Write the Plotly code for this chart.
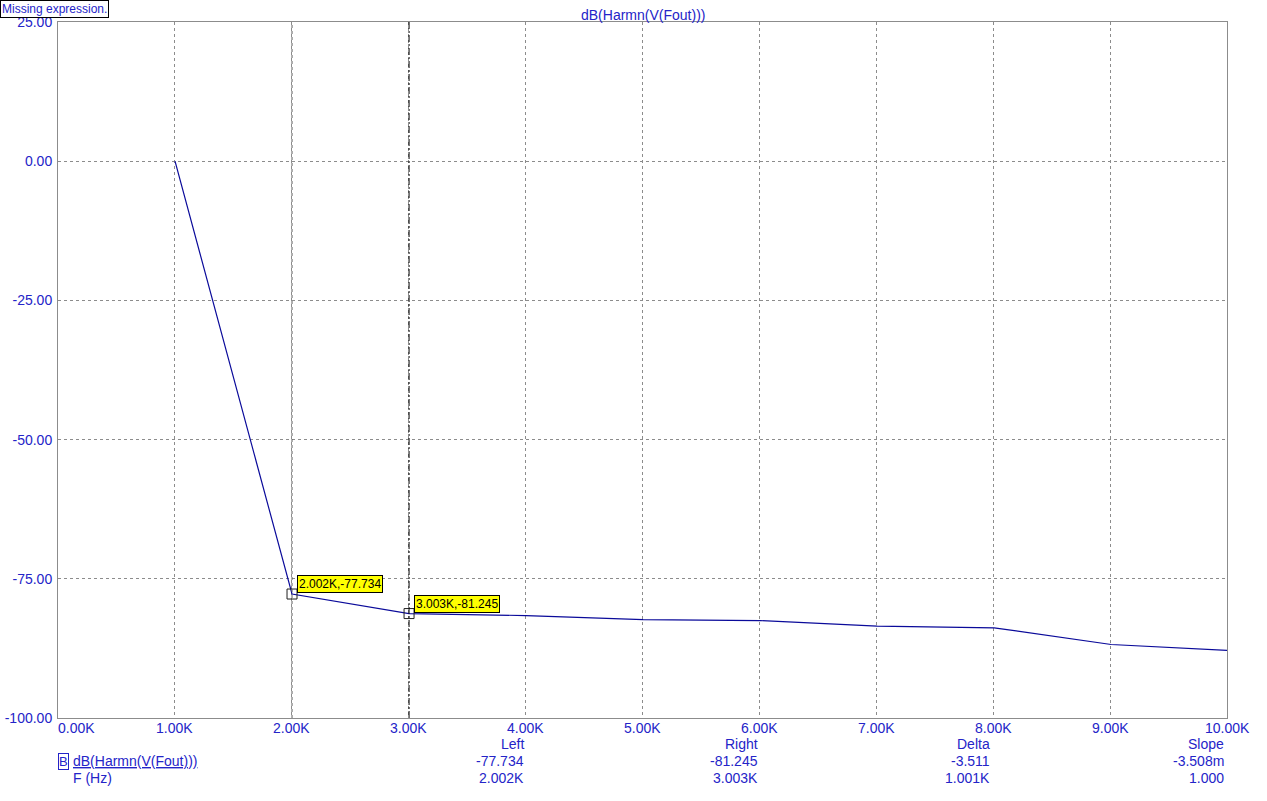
import plotly.graph_objects as go

# ---- data ----
freq_hz = [1001, 2002, 3003, 4004, 5005, 6006, 7007, 8008, 9009, 10010]
db_vals = [0.0, -77.734, -81.245, -81.6, -82.35, -82.5, -83.5, -83.8, -86.8, -87.85]

x_tick_vals = [0, 1000, 2000, 3000, 4000, 5000, 6000, 7000, 8000, 9000, 10000]
x_tick_text = ["0.00K", "1.00K", "2.00K", "3.00K", "4.00K", "5.00K", "6.00K",
               "7.00K", "8.00K", "9.00K", "10.00K"]
y_tick_vals = [25, 0, -25, -50, -75, -100]
y_tick_text = ["25.00", "0.00", "-25.00", "-50.00", "-75.00", "-100.00"]

cursor_x = [2002, 3003]
cursor_y = [-77.734, -81.245]
cursor_labels = ["2.002K,-77.734", "3.003K,-81.245"]

table_heads = ["Left", "Right", "Delta", "Slope"]
table_row1 = ["-77.734", "-81.245", "-3.511", "-3.508m"]
table_row2 = ["2.002K", "3.003K", "1.001K", "1.000"]
table_x = [4000, 6005, 7990, 9990]

title_text = "dB(Harmn(V(Fout)))"
trace_name = "dB(Harmn(V(Fout)))"
xunit_text = "F (Hz)"

BLUE = "#2424c8"
TRACE = "#0a0a9a"
GRID = "#8c8c8c"
FONT = "Liberation Sans, Arial, sans-serif"

fig = go.Figure()
fig.add_trace(go.Scatter(x=freq_hz, y=db_vals, mode="lines",
                         line=dict(color=TRACE, width=1.2), hoverinfo="skip",
                         showlegend=False))
fig.add_trace(go.Scatter(x=cursor_x, y=cursor_y, mode="markers",
                         marker=dict(symbol="square-open", size=10,
                                     color="#202020", line=dict(width=1)),
                         hoverinfo="skip", showlegend=False))

# cursor lines
fig.add_shape(type="line", xref="x", yref="paper", x0=cursor_x[0], x1=cursor_x[0],
              y0=0, y1=1, line=dict(color="#606060", width=1, dash="3px,3px"))
fig.add_shape(type="line", xref="x", yref="paper", x0=cursor_x[1], x1=cursor_x[1],
              y0=0, y1=1, line=dict(color="#000000", width=1, dash="7px,2px,2px,2px"))

ann = []
# cursor labels
for cx, cy, lab in zip(cursor_x, cursor_y, cursor_labels):
    ann.append(dict(x=cx, y=cy, xref="x", yref="y", text=lab, showarrow=False,
                    xanchor="left", yanchor="bottom", xshift=5, yshift=1,
                    bgcolor="#ffff00", bordercolor="#000000", borderwidth=1,
                    borderpad=1, font=dict(family=FONT, size=12, color="#000000")))
# x tick labels
for tv, tt in zip(x_tick_vals, x_tick_text):
    ann.append(dict(x=tv, y=-0.0144, xref="x", yref="paper", text=tt,
                    showarrow=False, xanchor="left" if tv == 0 else "center",
                    xshift=-2 if tv == 0 else 0,
                    yanchor="middle", font=dict(family=FONT, size=14, color=BLUE)))
# cursor table
for tx, h, r1, r2 in zip(table_x, table_heads, table_row1, table_row2):
    for yy, t in zip([-0.0374, -0.0618, -0.0862], [h, r1, r2]):
        ann.append(dict(x=tx, y=yy, xref="x", yref="paper", text=t,
                        showarrow=False, xanchor="right", yanchor="middle",
                        font=dict(family=FONT, size=14, color=BLUE)))
# legend entry
ann.append(dict(x=0.0, y=-0.0618, xref="paper", yref="paper", text="B",
                showarrow=False, xanchor="left", yanchor="middle",
                bordercolor=BLUE, borderwidth=1, borderpad=0,
                font=dict(family=FONT, size=13, color=BLUE)))
ann.append(dict(x=0.0115, y=-0.0618, xref="paper", yref="paper",
                text="<u>" + trace_name + "</u>", showarrow=False,
                xanchor="left", yanchor="middle",
                font=dict(family=FONT, size=14, color=BLUE)))
ann.append(dict(x=0.0115, y=-0.0862, xref="paper", yref="paper",
                text=xunit_text, showarrow=False, xanchor="left", yanchor="middle",
                font=dict(family=FONT, size=14, color=BLUE)))
# title
ann.append(dict(x=0.5, y=1.0, xref="paper", yref="paper", text=title_text,
                showarrow=False, xanchor="center", yanchor="bottom", yshift=-3,
                font=dict(family=FONT, size=14, color=BLUE)))
# missing expression box
ann.append(dict(x=-0.0496, y=1.0316, xref="paper", yref="paper",
                text="Missing expression.", showarrow=False, xanchor="left",
                yanchor="top", bgcolor="#ffffff", bordercolor="#000000",
                borderwidth=1, borderpad=1,
                font=dict(family=FONT, size=12, color=BLUE)))

fig.update_layout(
    width=1267, height=801,
    margin=dict(l=58, r=40, t=22, b=83, autoexpand=False),
    paper_bgcolor="#ffffff", plot_bgcolor="#ffffff",
    annotations=ann,
    xaxis=dict(range=[0, 10000], tickvals=x_tick_vals, showticklabels=False,
               showgrid=True, gridcolor=GRID, griddash="3px,3px", gridwidth=1,
               showline=True, linecolor=GRID, linewidth=1, mirror=True,
               zeroline=False, ticks="", automargin=False),
    yaxis=dict(range=[-100, 25], tickvals=y_tick_vals, ticktext=y_tick_text,
               showgrid=True, gridcolor=GRID, griddash="3px,3px", gridwidth=1,
               showline=True, linecolor=GRID, linewidth=1, mirror=True,
               zeroline=False, ticks="", ticklabelstandoff=2, automargin=False,
               tickfont=dict(family=FONT, size=14, color=BLUE)),
)

fig.write_html("out.html",
               config={"displayModeBar": False},
               post_script="document.body.style.margin='0px';"
                           "document.body.style.overflow='hidden';")
